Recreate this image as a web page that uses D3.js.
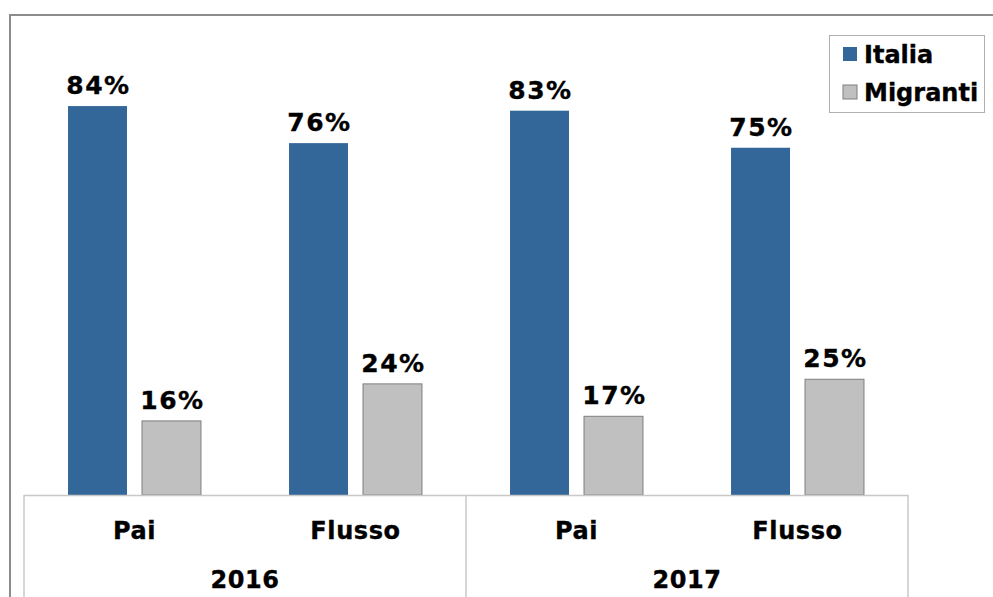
<!DOCTYPE html>
<html>
<head>
<meta charset="utf-8">
<script src="https://cdn.jsdelivr.net/npm/d3@7"></script>
<style>
  body { margin: 0; background: #fff; }
  text { font-family: "DejaVu Sans", Verdana, sans-serif; font-weight: bold; fill: #000; stroke: #000; stroke-width: 0.35px; }
</style>
</head>
<body>
<script>
// dati
var years = ["2016", "2017"];
var subcats = ["Pai", "Flusso"];
var series = ["Italia", "Migranti"];
var italia = [84, 76, 83, 75];
var migranti = [16, 24, 17, 25];

var width = 993, height = 597;
var colors = { Italia: "#336699", Migranti: "#c0c0c0" };

var svg = d3.select("body").append("svg")
  .attr("width", width)
  .attr("height", height);

// cornice esterna
svg.append("path")
  .attr("d", "M10,597 V15 H993")
  .attr("fill", "none")
  .attr("stroke", "#8c8c8c")
  .attr("stroke-width", 2);

// categorie combinate anno|sotto-categoria
var cats = [];
years.forEach(function (y) {
  subcats.forEach(function (s) { cats.push({ year: y, sub: s }); });
});
var rows = cats.map(function (c, i) {
  return { key: c.year + "|" + c.sub, year: c.year, sub: c.sub, Italia: italia[i], Migranti: migranti[i] };
});

var x0 = d3.scaleBand().domain(rows.map(function (d) { return d.key; })).range([24, 908]);
var xYear = d3.scaleBand().domain(years).range([24, 908]);
var x1 = d3.scaleBand().domain(series).range([0, x0.bandwidth()])
  .paddingInner(0.203).paddingOuter(0.595);
var y = d3.scaleLinear().domain([0, 100]).range([495, 32]);

var groups = svg.selectAll("g.cat")
  .data(rows)
  .enter()
  .append("g")
  .attr("class", "cat")
  .attr("transform", function (d) { return "translate(" + x0(d.key) + ",0)"; });

var bars = groups.selectAll("g.bar")
  .data(function (d) { return series.map(function (s) { return { s: s, v: d[s] }; }); })
  .enter()
  .append("g");

bars.append("rect")
  .attr("x", function (d) { return x1(d.s); })
  .attr("y", function (d) { return y(d.v); })
  .attr("width", x1.bandwidth())
  .attr("height", function (d) { return y(0) - y(d.v); })
  .attr("fill", function (d) { return colors[d.s]; })
  .attr("stroke", function (d) { return d.s == "Migranti" ? "#7f7f7f" : "none"; })
  .attr("stroke-width", 1);

bars.append("text")
  .attr("x", function (d) { return x1(d.s) + x1.bandwidth() / 2 + 1; })
  .attr("y", function (d) { return y(d.v) - 12; })
  .attr("text-anchor", "middle")
  .style("font-size", "25px")
  .style("letter-spacing", "1.5px")
  .text(function (d) { return d.v + "%"; });

// asse a tabella
var axisCol = "#c8c8c8";
svg.append("line")
  .attr("x1", 24).attr("x2", 908).attr("y1", 495.5).attr("y2", 495.5)
  .attr("stroke", axisCol).attr("stroke-width", 1.5);

var seps = [24].concat(years.map(function (yr) { return xYear(yr) + xYear.bandwidth(); }));
svg.selectAll("line.sep")
  .data(seps)
  .enter()
  .append("line")
  .attr("class", "sep")
  .attr("x1", function (d) { return d; })
  .attr("x2", function (d) { return d; })
  .attr("y1", 495)
  .attr("y2", 597)
  .attr("stroke", axisCol)
  .attr("stroke-width", 1.5);

svg.selectAll("text.sub")
  .data(rows)
  .enter()
  .append("text")
  .attr("class", "sub")
  .attr("x", function (d) { return x0(d.key) + x0.bandwidth() / 2; })
  .attr("y", 539)
  .attr("text-anchor", "middle")
  .style("font-size", "24px")
  .style("letter-spacing", "0.6px")
  .text(function (d) { return d.sub; });

svg.selectAll("text.year")
  .data(years)
  .enter()
  .append("text")
  .attr("class", "year")
  .attr("x", function (d) { return xYear(d) + xYear.bandwidth() / 2; })
  .attr("y", 588)
  .attr("text-anchor", "middle")
  .style("font-size", "24px")
  .style("letter-spacing", "0.6px")
  .text(function (d) { return d; });

// legenda
var legend = svg.append("g").attr("transform", "translate(829,35)");
legend.append("rect")
  .attr("x", 0.5).attr("y", 0.5)
  .attr("width", 155).attr("height", 77)
  .attr("fill", "#fff")
  .attr("stroke", "#b0b0b0");

var li = legend.selectAll("g.item")
  .data(series)
  .enter()
  .append("g")
  .attr("transform", function (d, i) { return "translate(14," + (12 + i * 38) + ")"; });

li.append("rect")
  .attr("width", 14).attr("height", 14)
  .attr("fill", function (d) { return colors[d]; })
  .attr("stroke", function (d) { return d == "Migranti" ? "#7f7f7f" : "none"; });

li.append("text")
  .attr("x", 21)
  .attr("y", 16)
  .style("font-size", "24px")
  .text(function (d) { return d; });
</script>
</body>
</html>
